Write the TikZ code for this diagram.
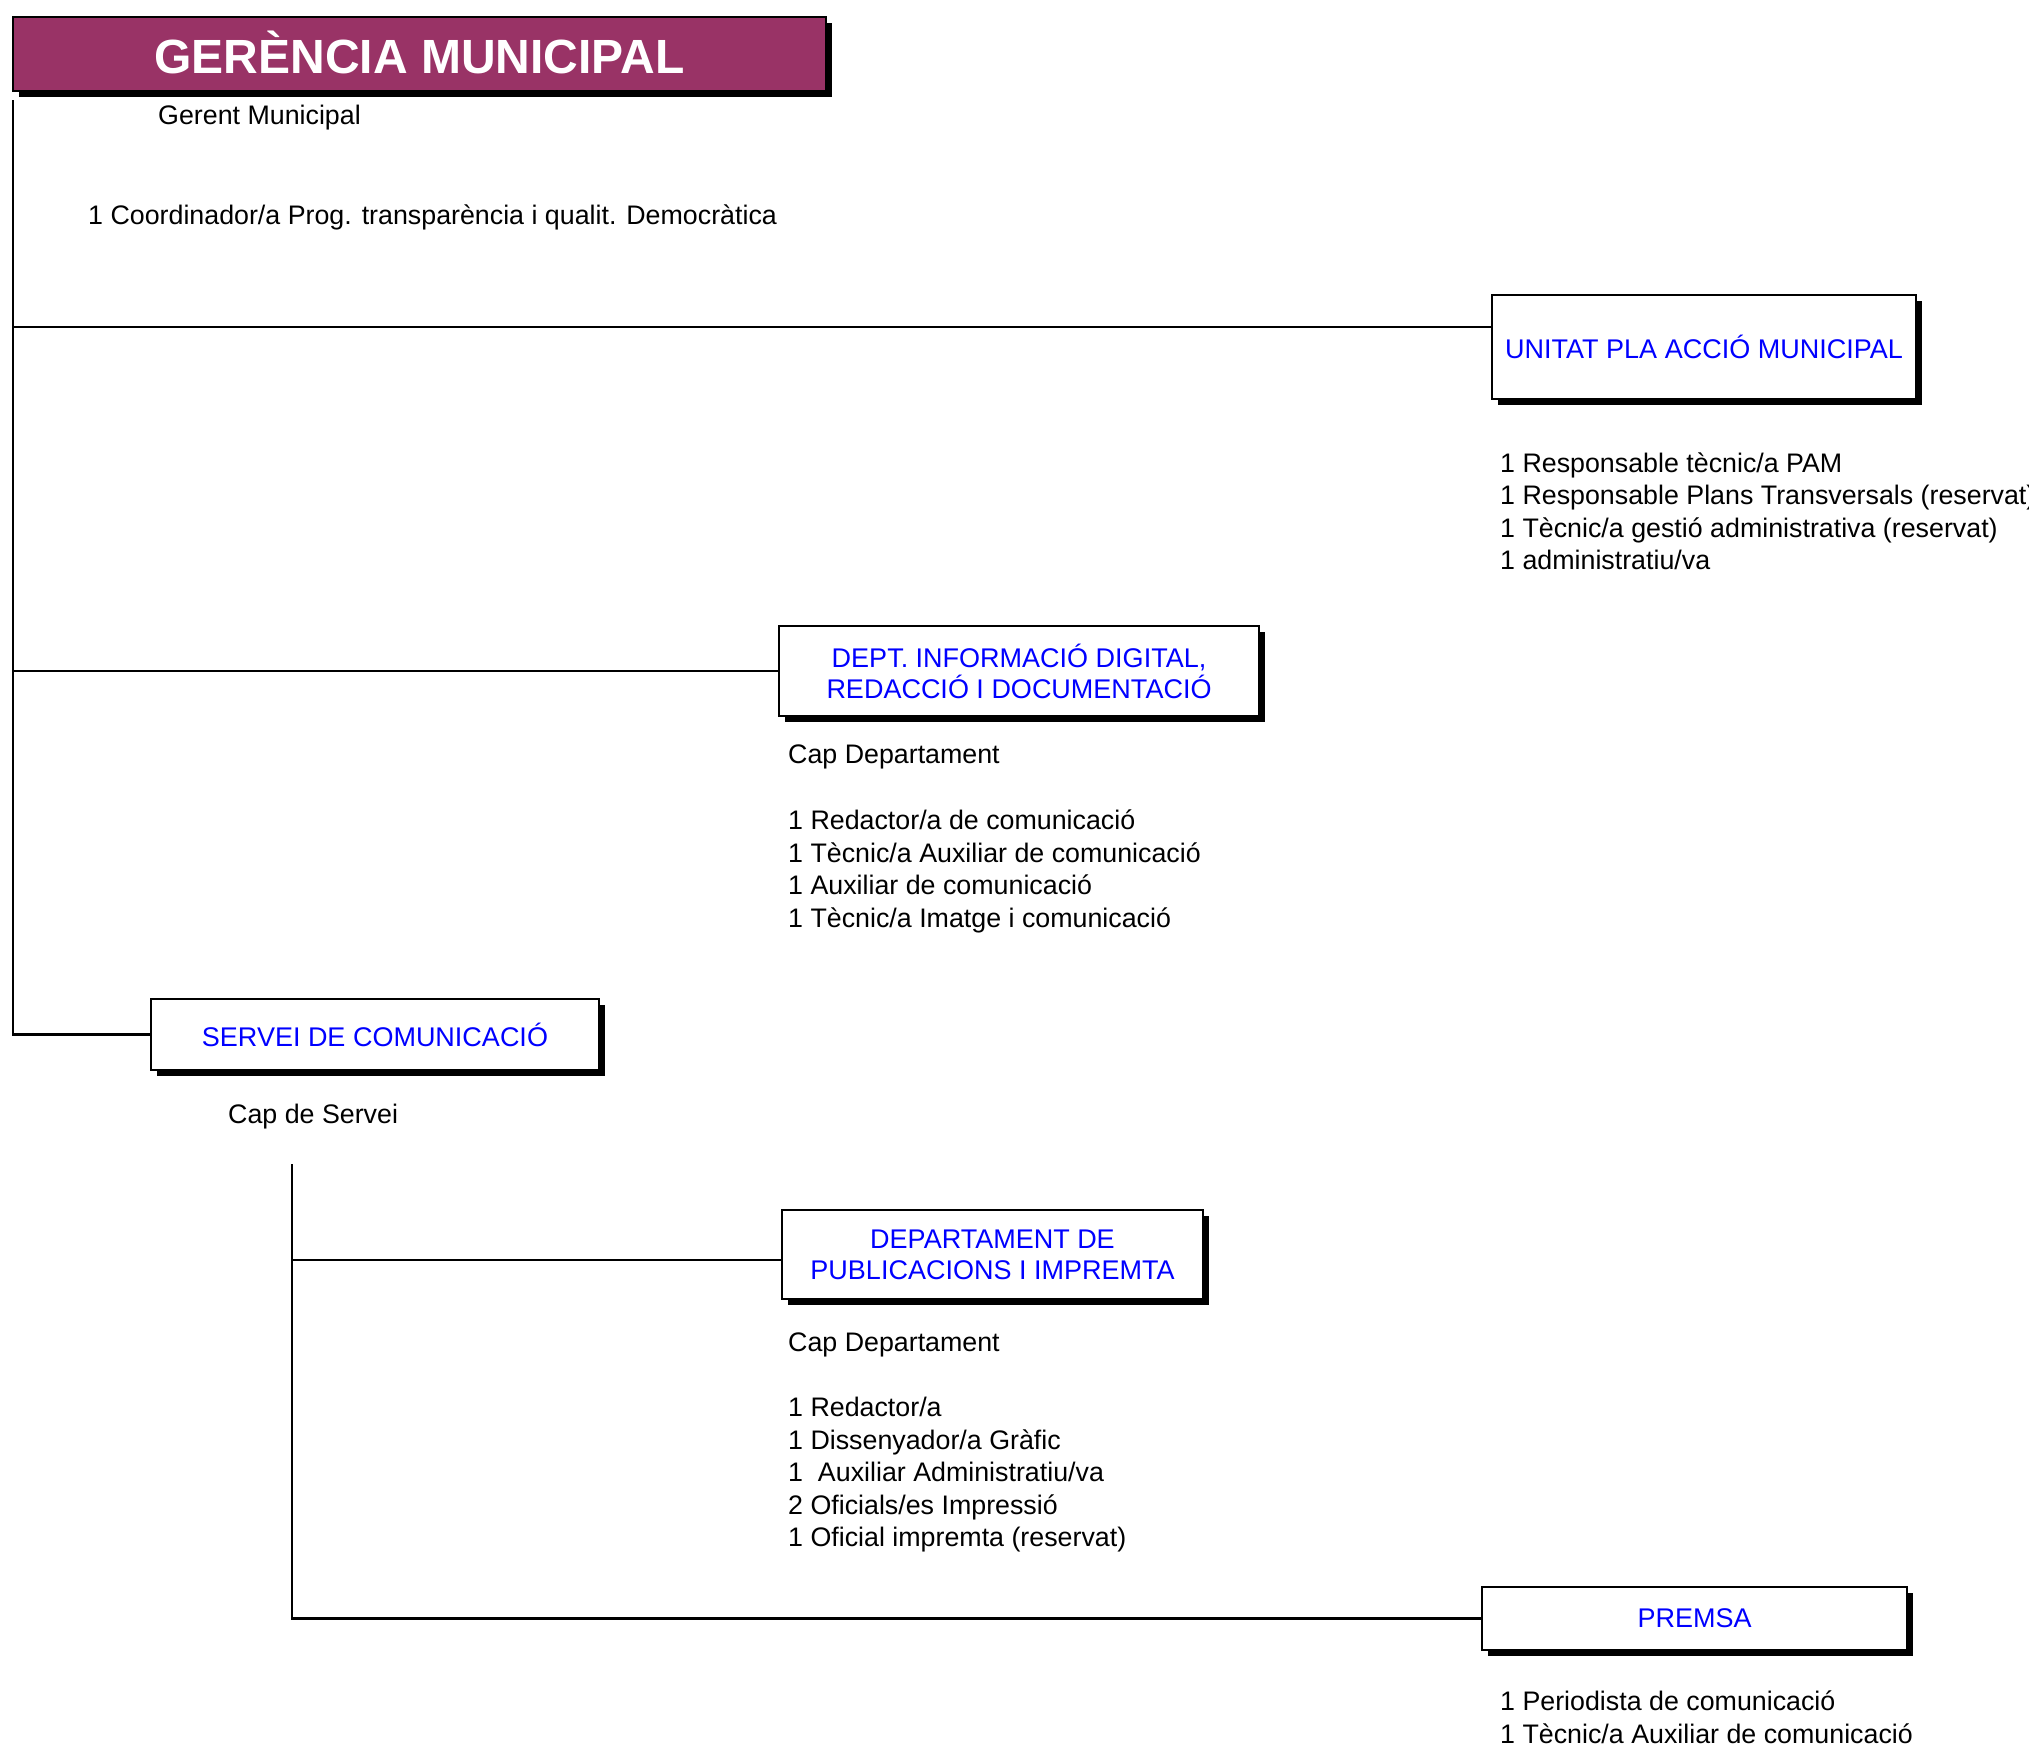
\documentclass[tikz,border=0pt]{standalone}
\usepackage{fontspec}
\setmainfont{Liberation Sans}
\usetikzlibrary{shadows}
\definecolor{titlecol}{HTML}{993366}
\definecolor{boxblue}{HTML}{0000FF}
\begin{document}
\begin{tikzpicture}[x=1pt,y=-1pt,
  unitbox/.style={draw=black, line width=1.8pt, fill=white, inner sep=0pt, align=center,
    text=boxblue, font=\fontsize{27}{31}\selectfont,
    drop shadow={shadow xshift=6pt, shadow yshift=-6pt, fill=black, opacity=1}},
  titlebox/.style={draw=black, line width=1.8pt, fill=titlecol, inner sep=0pt, align=center,
    text=white, font=\fontsize{48}{52}\selectfont\bfseries,
    drop shadow={shadow xshift=6pt, shadow yshift=-6pt, fill=black, opacity=1}},
  txt/.style={anchor=base west, inner sep=0pt, font=\fontsize{26.8}{31}\selectfont},
  conn/.style={line width=2.5pt, line cap=rect}]
\useasboundingbox (0,0) rectangle (2029,1749);
\fill[white] (0,0) rectangle (2029,1749);

% boxes
\node[titlebox, minimum width=813pt, minimum height=74pt] (ger) at (419.5,54) {\raisebox{4pt}{GERÈNCIA MUNICIPAL}};
\node[unitbox, minimum width=424pt, minimum height=104pt] (unitat) at (1704,347) {UNITAT PLA ACCIÓ MUNICIPAL};
\node[unitbox, minimum width=480pt, minimum height=90pt] (dept) at (1019,671) {DEPT. INFORMACIÓ DIGITAL,\\REDACCIÓ I DOCUMENTACIÓ};
\node[unitbox, minimum width=448pt, minimum height=71pt] (servei) at (375,1034.5) {SERVEI DE COMUNICACIÓ};
\node[unitbox, minimum width=421pt, minimum height=89pt] (publ) at (992.5,1254.5) {DEPARTAMENT DE\\PUBLICACIONS I IMPREMTA};
\node[unitbox, minimum width=425pt, minimum height=63pt] (premsa) at (1694.5,1618.5) {PREMSA};

% connectors
\coordinate (t0) at (13,101);
\coordinate (j1) at (13,327);
\draw[conn] (t0) |- (servei.west);
\draw[conn] (j1) -- (j1 -| unitat.west);
\draw[conn] (dept.west -| t0) -- (dept.west);
\coordinate (s0) at (292,1165);
\coordinate (j2) at (292,1260);
\draw[conn] (s0) |- (premsa.west);
\draw[conn] (j2) -- (j2 -| publ.west);

% texts
\node[txt] (g1) at (158,124.5) {Gerent Municipal};
\node[txt] (g2) at (88,224.5) {1 Coordinador/a Prog. transparència i qualit. Democràtica};

\node[txt] (u1) at (1500,472) {1 Responsable tècnic/a PAM};
\node[txt] (u2) at (1500,504.5) {1 Responsable Plans Transversals (reservat)};
\node[txt] (u3) at (1500,537) {1 Tècnic/a gestió administrativa (reservat)};
\node[txt] (u4) at (1500,569.5) {1 administratiu/va};

\node[txt] (d0) at (788,763.5) {Cap Departament};
\node[txt] (d1) at (788,829.5) {1 Redactor/a de comunicació};
\node[txt] (d2) at (788,862) {1 Tècnic/a Auxiliar de comunicació};
\node[txt] (d3) at (788,894.5) {1 Auxiliar de comunicació};
\node[txt] (d4) at (788,927.5) {1 Tècnic/a Imatge i comunicació};

\node[txt] (s1) at (228,1123.5) {Cap de Servei};

\node[txt] (p0) at (788,1351.5) {Cap Departament};
\node[txt] (p1) at (788,1416.5) {1 Redactor/a};
\node[txt] (p2) at (788,1449) {1 Dissenyador/a Gràfic};
\node[txt] (p3) at (788,1481.5) {1 \ Auxiliar Administratiu/va};
\node[txt] (p4) at (788,1514) {2 Oficials/es Impressió};
\node[txt] (p5) at (788,1546.5) {1 Oficial impremta (reservat)};

\node[txt] (r1) at (1500,1710.5) {1 Periodista de comunicació};
\node[txt] (r2) at (1500,1743) {1 Tècnic/a Auxiliar de comunicació};
\end{tikzpicture}
\end{document}
